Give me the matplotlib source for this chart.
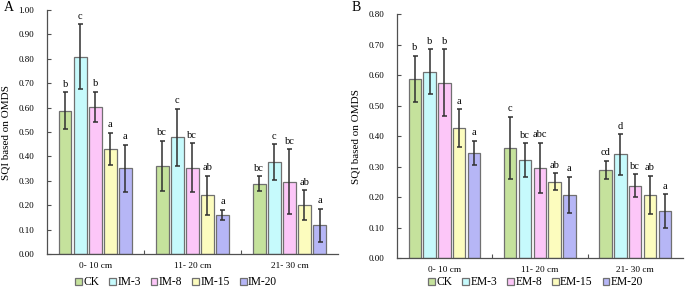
import numpy as np
import matplotlib.pyplot as plt
from matplotlib.patches import Patch

plt.rcParams['font.family'] = ['Liberation Serif', 'DejaVu Serif']

depths = ['0- 10 cm', '11- 20 cm', '21- 30 cm']
colors = ['#c5e29c', '#c6fafc', '#fcc6f8', '#fcfcbe', '#b6b6f6']

names_a = ['CK', 'IM-3', 'IM-8', 'IM-15', 'IM-20']
mean_a = [[0.587, 0.362, 0.288],
          [0.809, 0.478, 0.377],
          [0.604, 0.354, 0.296],
          [0.430, 0.240, 0.201],
          [0.351, 0.161, 0.118]]
err_a = [[0.076, 0.103, 0.030],
         [0.133, 0.117, 0.073],
         [0.062, 0.100, 0.133],
         [0.067, 0.080, 0.061],
         [0.096, 0.020, 0.068]]
let_a = [['b', 'bc', 'bc'],
         ['c', 'c', 'c'],
         ['b', 'bc', 'bc'],
         ['a', 'ab', 'ab'],
         ['a', 'a', 'a']]

names_b = ['CK', 'EM-3', 'EM-8', 'EM-15', 'EM-20']
mean_b = [[0.588, 0.362, 0.289],
          [0.612, 0.322, 0.340],
          [0.575, 0.296, 0.238],
          [0.427, 0.251, 0.208],
          [0.345, 0.207, 0.154]]
err_b = [[0.076, 0.102, 0.030],
         [0.074, 0.055, 0.067],
         [0.110, 0.083, 0.037],
         [0.062, 0.028, 0.062],
         [0.040, 0.060, 0.055]]
let_b = [['b', 'c', 'cd'],
         ['b', 'bc', 'd'],
         ['b', 'abc', 'bc'],
         ['a', 'ab', 'ab'],
         ['a', 'a', 'a']]

fig = plt.figure(figsize=(6.85, 2.9), dpi=100)
ax_a = fig.add_axes([0.0682, 0.1241, 0.4252, 0.8414])
ax_b = fig.add_axes([0.5791, 0.1103, 0.4179, 0.8404])

def panel(ax, names, means, errs, letters, ymax, tag, legx, labx):
    x = np.arange(len(depths))
    pitch = 0.155
    for i in range(len(names)):
        pos = x + (i - 2) * pitch
        ax.bar(pos, means[i], width=0.13, color=colors[i], edgecolor='#707070',
               linewidth=0.9, label=names[i], zorder=2)
        ax.errorbar(pos, means[i], yerr=errs[i], fmt='none', ecolor='#303030',
                    elinewidth=1.1, capsize=1.8, capthick=1.1, zorder=3)
        for p, m, e, t in zip(pos, means[i], errs[i], letters[i]):
            ax.annotate(t, (p, m + e), xytext=(0, 2.5), textcoords='offset points',
                        ha='center', va='bottom', fontsize=7.5)
    ax.set_xlim(-0.5, 2.5)
    ax.set_ylim(0, ymax)
    ticks = np.arange(0, ymax + 0.001, 0.1)
    ax.set_yticks(ticks)
    ax.set_yticklabels(['%.2f' % v for v in ticks])
    ax.set_xticks([0.5, 1.5], minor=False)
    ax.set_xticklabels([])
    ax.set_xticks(x, minor=True)
    ax.set_xticklabels(depths, minor=True)
    ax.tick_params(axis='x', which='major', direction='in', length=3, color='#505050')
    ax.tick_params(axis='x', which='minor', length=0, pad=6, labelsize=6.7)
    ax.tick_params(axis='y', direction='in', length=3, color='#505050', labelsize=6.5, pad=9)
    for s in ['top', 'right']:
        ax.spines[s].set_visible(False)
    for s in ['left', 'bottom']:
        ax.spines[s].set_color('#505050')
        ax.spines[s].set_linewidth(0.9)
    ax.set_ylabel('SQI based on OMDS', fontsize=8)
    ax.yaxis.set_label_coords(labx, 0.5)
    handles = [Patch(facecolor=c, edgecolor='#707070', linewidth=0.9) for c in colors]
    fig.legend(handles, names, loc='center', bbox_to_anchor=(legx, 0.026), ncol=5,
               frameon=False, fontsize=8.3, handlelength=0.6, handleheight=0.6,
               handletextpad=0.12, columnspacing=0.85, borderaxespad=0)
    ax.text(tag[0], tag[1], tag[2], transform=fig.transFigure, fontsize=10,
            ha='left', va='top')

panel(ax_a, names_a, mean_a, err_a, let_a, 1.0, (0.006, 0.995, 'A'), 0.257, -0.125)
panel(ax_b, names_b, mean_b, err_b, let_b, 0.8, (0.513, 0.995, 'B'), 0.782, -0.125)

fig.savefig('out.png', dpi=100)
